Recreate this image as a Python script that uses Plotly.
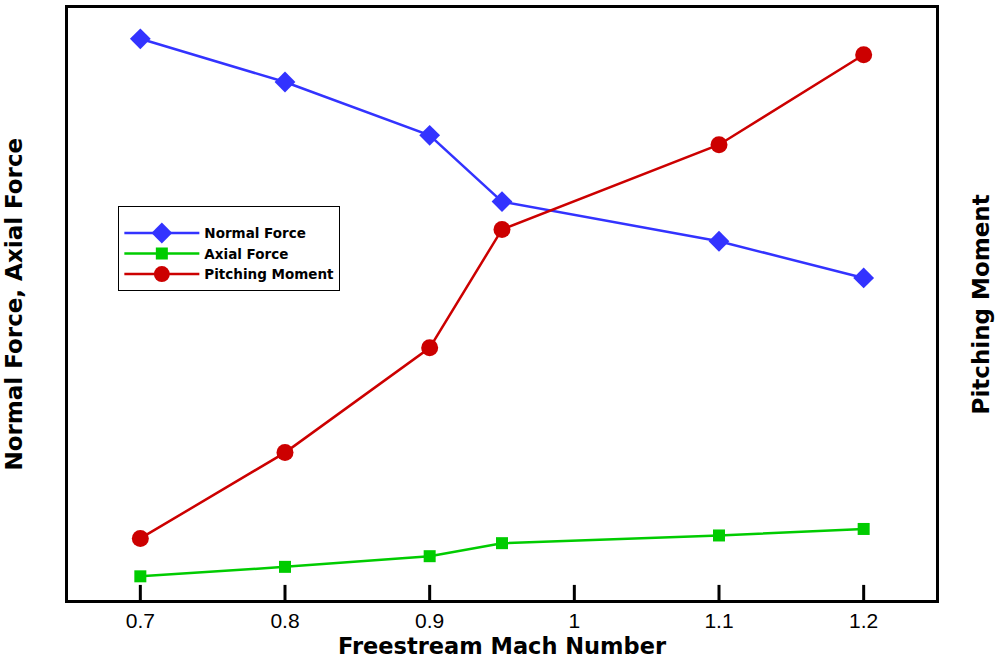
import plotly.graph_objects as go

# Freestream Mach numbers
mach = [0.7, 0.8, 0.9, 0.95, 1.1, 1.2]
tick_vals = [0.7, 0.8, 0.9, 1.0, 1.1, 1.2]
tick_text = ["0.7", "0.8", "0.9", "1", "1.1", "1.2"]
x_range = [0.65, 1.25]

# Aerodynamic coefficients (normalized units, shared vertical scale)
normal_force = [9.48, 8.75, 7.85, 6.73, 6.06, 5.44]
axial_force = [0.40, 0.56, 0.74, 0.96, 1.09, 1.20]
pitching_moment = [1.04, 2.49, 4.26, 6.26, 7.69, 9.21]

TICK_FONT = "Liberation Sans"
TITLE_FONT = "DejaVu Sans"

fig = go.Figure()
fig.add_trace(go.Scatter(
    x=mach, y=normal_force, name="Normal Force", mode="lines+markers",
    line=dict(color="#3333FF", width=2.5),
    marker=dict(symbol="diamond", size=16, color="#3333FF"),
))
fig.add_trace(go.Scatter(
    x=mach, y=axial_force, name="Axial Force", mode="lines+markers",
    line=dict(color="#00CC00", width=2.5),
    marker=dict(symbol="square", size=12, color="#00CC00"),
))
fig.add_trace(go.Scatter(
    x=mach, y=pitching_moment, name="Pitching Moment", mode="lines+markers",
    line=dict(color="#CC0000", width=2.5),
    marker=dict(symbol="circle", size=17, color="#CC0000"),
))

# inward tick marks along the bottom edge, placed on the x scale at each tick value
tick_marks = [
    dict(type="line", xref="x", yref="paper", x0=tv, x1=tv, y0=0, y1=0.0255,
         line=dict(color="black", width=3), layer="above")
    for tv in tick_vals
]

fig.update_layout(
    width=1000, height=660,
    margin=dict(l=68, r=64, t=5, b=60),
    paper_bgcolor="white", plot_bgcolor="white",
    font=dict(family=TICK_FONT, color="black"),
    showlegend=True,
    legend=dict(
        x=0.058, y=0.665, xanchor="left", yanchor="top",
        bgcolor="white", bordercolor="black", borderwidth=1,
        font=dict(family=TITLE_FONT, size=13.5, color="black", weight="bold"),
        tracegroupgap=0, itemwidth=75,
        title=dict(text=" ", font=dict(size=8)),
    ),
    xaxis=dict(
        range=x_range, tickvals=tick_vals, ticktext=tick_text,
        ticks="", showline=True, linecolor="black", linewidth=3, mirror=True,
        showgrid=False, zeroline=False,
        tickfont=dict(family=TICK_FONT, size=21, color="black"),
    ),
    yaxis=dict(
        range=[0, 10], showticklabels=False, ticks="",
        showline=True, linecolor="black", linewidth=3, mirror=True,
        showgrid=False, zeroline=False,
    ),
    shapes=tick_marks,
    annotations=[
        dict(text="Freestream Mach Number", xref="paper", yref="paper",
             x=0.5, y=-0.053, xanchor="center", yanchor="top", showarrow=False,
             font=dict(family=TITLE_FONT, size=22.5, color="black", weight="bold")),
        dict(text="Normal Force, Axial Force", xref="paper", yref="paper",
             x=-0.08, xanchor="left", y=0.5, yanchor="middle", textangle=-90,
             showarrow=False,
             font=dict(family=TITLE_FONT, size=23, color="black", weight="bold")),
        dict(text="Pitching Moment", xref="paper", yref="paper",
             x=1.035, xanchor="left", y=0.5, yanchor="middle", textangle=-90,
             showarrow=False,
             font=dict(family=TITLE_FONT, size=23, color="black", weight="bold")),
    ],
)

fig.write_html("out.html")
